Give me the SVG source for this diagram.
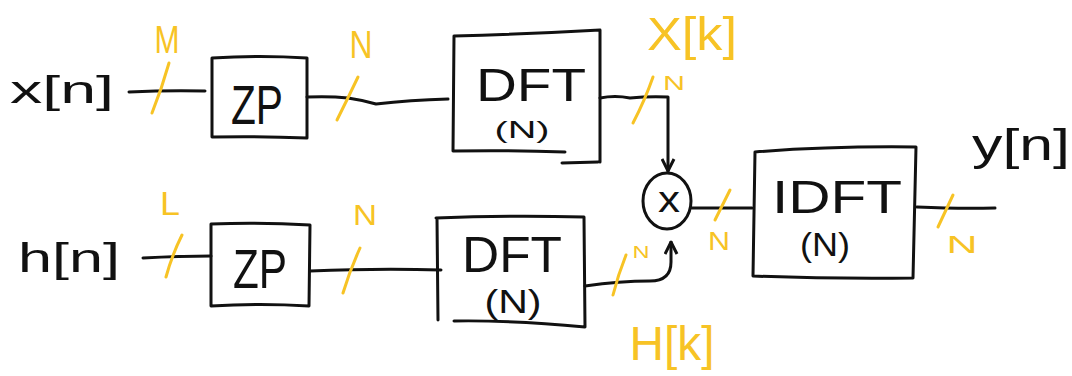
<svg xmlns="http://www.w3.org/2000/svg" width="1072" height="376" viewBox="0 0 1072 376">
  <style>
    .ink { fill: none; stroke: #111; stroke-width: 3; stroke-linecap: round; stroke-linejoin: round; }
    .hl { fill: none; stroke: #F7C325; stroke-width: 3; stroke-linecap: round; }
    .t { font-family: "Liberation Sans", Arial, sans-serif; fill: #111; text-anchor: middle; }
    .y { font-family: "Liberation Sans", Arial, sans-serif; fill: #F7C325; text-anchor: middle; }
  </style>
  <defs>
    <marker id="arr" viewBox="0 0 10 10" refX="9" refY="5" markerWidth="5" markerHeight="5" orient="auto" markerUnits="strokeWidth">
      <path d="M1,1 L9,5 L1,9" fill="none" stroke="#111" stroke-width="2"/>
    </marker>
  </defs>
  <rect width="1072" height="376" fill="#fff"/>

  <g id="connectors">
    <path class="ink" d="M129,92 Q170,90 205,91"/>
    <path class="ink" d="M143,258 Q180,256 211,256"/>
    <path class="ink" d="M307,97 Q330,96 348,98 Q362,100 376,104 Q410,100 448,99"/>
    <path class="ink" d="M310,271 Q380,268 441,270"/>
    <path class="ink" d="M600,98 Q615,95 630,98 Q650,96 668,97 L668,171" marker-end="url(#arr)"/>
    <path class="ink" d="M585,286 Q620,281 650,281 Q671,281 671,262 L671,242" marker-end="url(#arr)"/>
    <path class="ink" d="M692,208 L752,208"/>
    <path class="ink" d="M917,207 Q960,209 995,208"/>
  </g>

  <g id="slashes">
    <path class="hl" d="M152,113 Q162,88 169,63"/>
    <path class="hl" d="M166,277 Q172,255 182,235"/>
    <path class="hl" d="M337,120 Q348,98 358,77"/>
    <path class="hl" d="M343,293 Q350,270 360,248"/>
    <path class="hl" d="M633,123 Q645,100 653,77"/>
    <path class="hl" d="M613,295 Q618,275 626,255"/>
    <path class="hl" d="M715,220 L730,190"/>
    <path class="hl" d="M938,227 L953,195"/>
  </g>

  <g id="labels">
    <text class="t" x="62" y="103" font-size="38" textLength="104" lengthAdjust="spacingAndGlyphs">x[n]</text>
    <text class="t" x="69" y="272" font-size="40" textLength="102" lengthAdjust="spacingAndGlyphs">h[n]</text>
    <text class="t" x="1021" y="160" font-size="44" textLength="98" lengthAdjust="spacingAndGlyphs">y[n]</text>
    <text class="y" x="167" y="53" font-size="38" textLength="25" lengthAdjust="spacingAndGlyphs">M</text>
    <text class="y" x="170" y="215" font-size="34" textLength="20" lengthAdjust="spacingAndGlyphs">L</text>
    <text class="y" x="361" y="58" font-size="38" textLength="23" lengthAdjust="spacingAndGlyphs">N</text>
    <text class="y" x="365" y="225" font-size="30" textLength="24" lengthAdjust="spacingAndGlyphs">N</text>
    <text class="y" x="692" y="50" font-size="46" textLength="90" lengthAdjust="spacingAndGlyphs">X[k]</text>
    <text class="y" x="674" y="90" font-size="20" textLength="22" lengthAdjust="spacingAndGlyphs">N</text>
    <text class="y" x="641" y="258" font-size="16" textLength="17" lengthAdjust="spacingAndGlyphs">N</text>
    <text class="y" x="672" y="360" font-size="48" textLength="85" lengthAdjust="spacingAndGlyphs">H[k]</text>
    <text class="y" x="719" y="250" font-size="26" textLength="22" lengthAdjust="spacingAndGlyphs">N</text>
    <text class="y" x="962" y="253" font-size="24" textLength="31" lengthAdjust="spacingAndGlyphs">N</text>
  </g>

  <g id="zp1">
    <path class="ink" d="M212,58 Q260,55 307,58 L307,138 Q260,136 212,137 Z"/>
    <text class="t" x="257" y="124" font-size="56" textLength="52" lengthAdjust="spacingAndGlyphs">ZP</text>
  </g>

  <g id="zp2">
    <path class="ink" d="M211,224 Q260,222 310,225 L309,306 Q260,303 211,306 Z"/>
    <text class="t" x="260" y="288" font-size="56" textLength="54" lengthAdjust="spacingAndGlyphs">ZP</text>
  </g>

  <g id="dft1">
    <path class="ink" d="M454,36 Q530,34 600,30 L600,162 M598,162 L562,163 M454,36 L453,151 Q510,150 565,152"/>
    <text class="t" x="531" y="101" font-size="46" textLength="110" lengthAdjust="spacingAndGlyphs">DFT</text>
    <text class="t" x="522" y="138" font-size="24" textLength="55" lengthAdjust="spacingAndGlyphs">(N)</text>
  </g>

  <g id="dft2">
    <path class="ink" d="M436,218 Q510,215 584,217 L585,327 Q510,320 454,321 M437,218 L438,320"/>
    <text class="t" x="512" y="272" font-size="50" textLength="100" lengthAdjust="spacingAndGlyphs">DFT</text>
    <text class="t" x="513" y="313" font-size="34" textLength="57" lengthAdjust="spacingAndGlyphs">(N)</text>
  </g>

  <g id="mult">
    <ellipse class="ink" cx="667" cy="201" rx="24" ry="28"/>
    <text class="t" x="669" y="212" font-size="36" textLength="22" lengthAdjust="spacingAndGlyphs">x</text>
  </g>

  <g id="idft">
    <path class="ink" d="M755,152 Q830,146 916,147 L913,278 Q830,279 753,276 L755,152"/>
    <text class="t" x="837" y="213" font-size="46" textLength="130" lengthAdjust="spacingAndGlyphs">IDFT</text>
    <text class="t" x="825" y="256" font-size="34" textLength="50" lengthAdjust="spacingAndGlyphs">(N)</text>
  </g>
</svg>
